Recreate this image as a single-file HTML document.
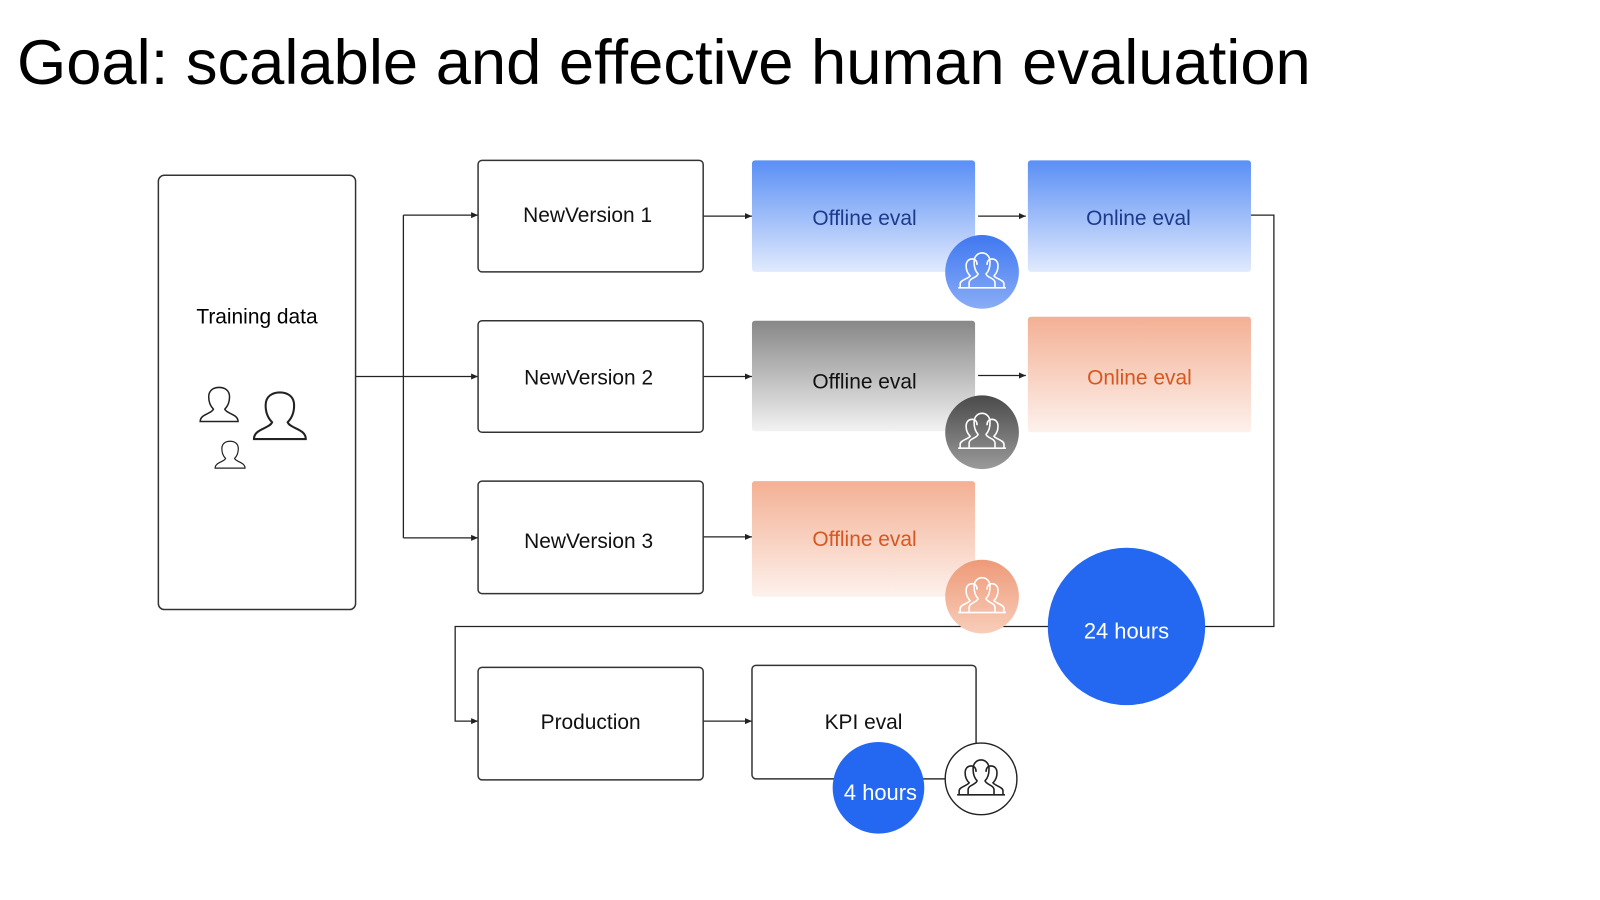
<!DOCTYPE html>
<html><head><meta charset="utf-8"><style>
html,body{margin:0;padding:0;background:#fff;width:1600px;height:900px;overflow:hidden}
svg{display:block}
text{font-family:"Liberation Sans",Arial,sans-serif}
</style></head><body>
<svg width="1600" height="900" viewBox="0 0 1600 900" xmlns="http://www.w3.org/2000/svg">
<defs>
<linearGradient id="gb" x1="0" y1="0" x2="0" y2="1"><stop offset="0" stop-color="#5a8ff5"/><stop offset="1" stop-color="#e1eafd"/></linearGradient>
<linearGradient id="gg" x1="0" y1="0" x2="0" y2="1"><stop offset="0" stop-color="#878787"/><stop offset="1" stop-color="#f2f2f2"/></linearGradient>
<linearGradient id="go" x1="0" y1="0" x2="0" y2="1"><stop offset="0" stop-color="#f3b094"/><stop offset="1" stop-color="#fdf1ec"/></linearGradient>
<linearGradient id="cb" x1="0" y1="0" x2="0" y2="1"><stop offset="0" stop-color="#3f78f0"/><stop offset="1" stop-color="#8aacf7"/></linearGradient>
<linearGradient id="cg" x1="0" y1="0" x2="0" y2="1"><stop offset="0" stop-color="#4a4a4a"/><stop offset="1" stop-color="#9a9a9a"/></linearGradient>
<linearGradient id="co" x1="0" y1="0" x2="0" y2="1"><stop offset="0" stop-color="#ee9a78"/><stop offset="1" stop-color="#f8cdb9"/></linearGradient>
<marker id="ar" markerWidth="8" markerHeight="8" refX="7" refY="4" orient="auto" markerUnits="userSpaceOnUse"><path d="M0,1 L7,4 L0,7z" fill="#222"/></marker>
<g id="grp" fill="none" stroke-width="1.6">
<path d="M-22,14 L-22,10 C-22,6 -14,5 -12,2 C-15,-1 -16,-5 -16,-8 C-16,-13 -13,-15 -10,-15 C-7,-15 -5,-13 -5,-9"/>
<path d="M22,14 L22,10 C22,6 14,5 12,2 C15,-1 16,-5 16,-8 C16,-13 13,-15 10,-15 C7,-15 5,-13 5,-9"/>
<path d="M-13,14 L-13,9 C-13,4 -5,4 -4,0 C-7,-3 -8,-8 -8,-12 C-8,-18 -4,-21 0,-21 C4,-21 8,-18 8,-12 C8,-8 7,-3 4,0 C5,4 13,4 13,9 L13,14"/>
<path d="M-24,14 L24,14"/>
</g>
<g id="pp" fill="none" stroke="#222" stroke-width="1.6">
<path d="M-20,16 C-20,8 -8,8 -6,3 C-10,-1 -11,-6 -11,-10 C-11,-17 -6,-20 0,-20 C6,-20 11,-17 11,-10 C11,-6 10,-1 6,3 C8,8 20,8 20,16 Z"/>
</g>
</defs>

<text x="17" y="84" font-size="63.3" fill="#000">Goal: scalable and effective human evaluation</text>

<g transform="scale(0.996)">
<!-- Training data -->
<rect x="159" y="176" width="198" height="436" rx="6" fill="#fff" stroke="#333" stroke-width="1.5"/>
<text x="258" y="325" font-size="21" text-anchor="middle">Training data</text>
<use href="#pp" transform="translate(220,408) scale(0.95)"/>
<use href="#pp" transform="translate(281,420) scale(1.3)"/>
<use href="#pp" transform="translate(231,458) scale(0.75)"/>

<g stroke="#222" stroke-width="1.3" fill="none">
<path d="M357,378 H405"/>
<path d="M405,216 V540"/>
<path d="M405,216 H480" marker-end="url(#ar)"/>
<path d="M405,378 H480" marker-end="url(#ar)"/>
<path d="M405,540 H480" marker-end="url(#ar)"/>
<path d="M706,217 H755" marker-end="url(#ar)"/>
<path d="M706,378 H755" marker-end="url(#ar)"/>
<path d="M706,539 H755" marker-end="url(#ar)"/>
<path d="M982,217 H1030" marker-end="url(#ar)"/>
<path d="M982,377 H1030" marker-end="url(#ar)"/>
<path d="M1256,216 H1279 V629 H457 V724 H480" marker-end="url(#ar)"/>
<path d="M706,724 H755" marker-end="url(#ar)"/>
</g>

<g fill="#fff" stroke="#333" stroke-width="1.5">
<rect x="480" y="161" width="226" height="112" rx="4"/>
<rect x="480" y="322" width="226" height="112" rx="4"/>
<rect x="480" y="483" width="226" height="113" rx="4"/>
<rect x="480" y="670" width="226" height="113" rx="4"/>
<rect x="755" y="668" width="225" height="114" rx="4"/>
</g>
<g font-size="21" text-anchor="middle" fill="#111">
<text x="590" y="223">NewVersion 1</text>
<text x="591" y="386">NewVersion 2</text>
<text x="591" y="550">NewVersion 3</text>
<text x="593" y="732">Production</text>
<text x="867" y="732">KPI eval</text>
</g>

<rect x="755" y="161" width="224" height="112" rx="3" fill="url(#gb)"/>
<rect x="1032" y="161" width="224" height="112" rx="3" fill="url(#gb)"/>
<rect x="755" y="322" width="224" height="111" rx="3" fill="url(#gg)"/>
<rect x="1032" y="318" width="224" height="116" rx="3" fill="url(#go)"/>
<rect x="755" y="483" width="224" height="116" rx="3" fill="url(#go)"/>
<g font-size="21" text-anchor="middle">
<text x="868" y="226" fill="#1b3a8c">Offline eval</text>
<text x="1143" y="226" fill="#1b3a8c">Online eval</text>
<text x="868" y="390" fill="#111">Offline eval</text>
<text x="1144" y="386" fill="#d8561f">Online eval</text>
<text x="868" y="548" fill="#d8561f">Offline eval</text>
</g>

<circle cx="986" cy="273" r="37" fill="url(#cb)"/>
<use href="#grp" stroke="#fff" transform="translate(986,275)"/>
<circle cx="986" cy="434" r="37" fill="url(#cg)"/>
<use href="#grp" stroke="#fff" transform="translate(986,436)"/>
<circle cx="986" cy="599" r="37" fill="url(#co)"/>
<use href="#grp" stroke="#fff" transform="translate(986,601)"/>
<circle cx="985" cy="782" r="36" fill="#fff" stroke="#222" stroke-width="1.4"/>
<use href="#grp" stroke="#222" transform="translate(985,784)"/>

<circle cx="1131" cy="629" r="79" fill="#2468f2"/>
<text x="1131" y="641" font-size="22" fill="#fff" text-anchor="middle">24 hours</text>
<circle cx="882" cy="791" r="46" fill="#2468f2"/>
<text x="884" y="803" font-size="22" fill="#fff" text-anchor="middle">4 hours</text>
</g>
</svg>
</body></html>
